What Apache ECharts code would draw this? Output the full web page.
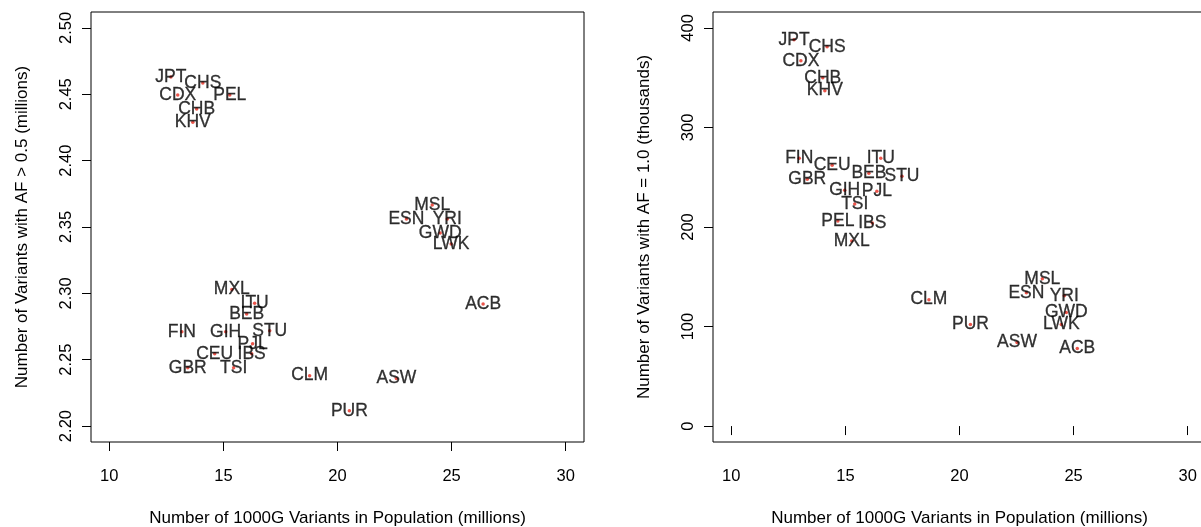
<!DOCTYPE html>
<html lang="en">
<head>
<meta charset="UTF-8">
<title>1000G variants per population</title>
<script src="https://cdn.jsdelivr.net/npm/echarts@6/dist/echarts.min.js"></script>
<style>
    * { margin: 0; padding: 0; }
    body { background: #fff; }
    #chart { width: 1201px; height: 527px; }
</style>
</head>
<body>
<div id="chart"></div>
<script>
    // population codes (same order in every array below)
    var pops = ['JPT', 'CHS', 'CDX', 'PEL', 'CHB', 'KHV', 'MSL', 'ESN', 'YRI', 'GWD', 'LWK', 'ACB', 'MXL',
        'ITU', 'BEB', 'FIN', 'GIH', 'STU', 'PJL', 'CEU', 'IBS', 'GBR', 'TSI', 'CLM', 'ASW', 'PUR'];

    // left panel: 1000G variants (millions) vs variants with AF > 0.5 (millions)
    var afHalfX = [12.70, 14.10, 13.00, 15.28, 13.83, 13.66, 24.15, 23.02, 24.81, 24.50, 24.98, 26.38, 15.37,
        16.37, 16.02, 13.18, 15.10, 17.03, 16.28, 14.62, 16.24, 13.44, 15.45, 18.78, 22.58, 20.52];
    var afHalfY = [2.4630, 2.4585, 2.4495, 2.4495, 2.4390, 2.4290, 2.3665, 2.3560, 2.3560, 2.3455, 2.3372, 2.2920, 2.3030,
        2.2925, 2.2845, 2.2710, 2.2710, 2.2718, 2.2620, 2.2545, 2.2545, 2.2440, 2.2440, 2.2380, 2.2358, 2.2115];

    // right panel: 1000G variants (millions) vs variants with AF = 1.0 (thousands)
    var afFixedX = [12.75, 14.20, 13.05, 14.67, 14.01, 14.10, 23.63, 22.93, 24.59, 24.68, 24.46, 25.16, 15.28,
        16.55, 16.03, 12.98, 14.97, 17.48, 16.38, 14.42, 16.18, 13.33, 15.41, 18.66, 22.52, 20.48];
    var afFixedY = [388, 381, 367, 206, 350, 337, 148, 134, 131, 114, 102, 78, 186,
        269, 254, 269, 237, 251, 236, 262, 204, 248, 223, 127, 84, 102];

    // tick labels
    var xTicks = [10, 15, 20, 25, 30];
    var afHalfTicks = [2.20, 2.25, 2.30, 2.35, 2.40, 2.45, 2.50];
    var afFixedTicks = [0, 100, 200, 300, 400];

    var FONT = '"Liberation Sans", Arial, sans-serif';

    function pairs(xs, ys) {
        var out = [];
        for (var i = 0; i < pops.length; i++) {
            out.push({ name: pops[i], value: [xs[i], ys[i]] });
        }
        return out;
    }

    function xAxisFor(idx) {
        return {
            gridIndex: idx,
            type: 'value',
            min: 9.2,
            max: 30.8,
            name: 'Number of 1000G Variants in Population (millions)',
            nameLocation: 'middle',
            nameGap: 68,
            nameTextStyle: { fontFamily: FONT, fontSize: 17, color: '#000' },
            axisLine: { show: false },
            splitLine: { show: false },
            axisTick: { show: true, length: 9, customValues: xTicks, lineStyle: { color: '#000' } },
            axisLabel: { customValues: xTicks, margin: 26, fontFamily: FONT, fontSize: 16.5, color: '#000' }
        };
    }

    function yAxisFor(idx, name, lo, hi, ticks, fmt) {
        return {
            gridIndex: idx,
            type: 'value',
            min: lo,
            max: hi,
            name: name,
            nameLocation: 'middle',
            nameGap: 60,
            nameTextStyle: { fontFamily: FONT, fontSize: 17, color: '#000' },
            axisLine: { show: false },
            splitLine: { show: false },
            axisTick: { show: true, length: 9, customValues: ticks, lineStyle: { color: '#000' } },
            axisLabel: {
                customValues: ticks, rotate: 90, margin: 16,
                fontFamily: FONT, fontSize: 16.5, color: '#000',
                formatter: fmt
            }
        };
    }

    function scatterFor(idx, data) {
        return {
            type: 'scatter',
            xAxisIndex: idx,
            yAxisIndex: idx,
            symbol: 'circle',
            symbolSize: 3.5,
            itemStyle: { color: '#e62a1e' },
            label: {
                show: true,
                position: 'inside',
                formatter: '{b}',
                fontFamily: FONT,
                fontSize: 17.5,
                color: '#000',
                textBorderColor: '#000',
                textBorderWidth: 0.3
            },
            emphasis: { disabled: true },
            data: data
        };
    }

    var myChart = echarts.init(document.getElementById('chart'));
    var option = {
        animation: false,
        backgroundColor: '#fff',
        grid: [
            { left: 91, top: 12, width: 493, height: 430, outerBoundsMode: 'none',
              show: true, borderColor: '#000', borderWidth: 1 },
            { left: 713, top: 12, width: 493, height: 430, outerBoundsMode: 'none',
              show: true, borderColor: '#000', borderWidth: 1 }
        ],
        xAxis: [xAxisFor(0), xAxisFor(1)],
        yAxis: [
            yAxisFor(0, 'Number of Variants with AF > 0.5 (millions)', 2.188, 2.512, afHalfTicks,
                function (v) { return v.toFixed(2); }),
            yAxisFor(1, 'Number of Variants with AF = 1.0 (thousands)', -16, 416, afFixedTicks,
                function (v) { return String(v); })
        ],
        series: [
            scatterFor(0, pairs(afHalfX, afHalfY)),
            scatterFor(1, pairs(afFixedX, afFixedY))
        ]
    };
    myChart.setOption(option);
</script>
</body>
</html>
